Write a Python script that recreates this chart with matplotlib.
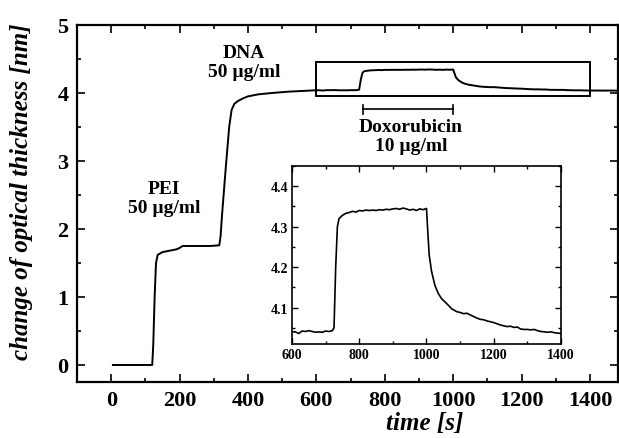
import matplotlib
matplotlib.use("Agg")
import matplotlib.pyplot as plt
from matplotlib.ticker import MultipleLocator
from matplotlib.patches import Rectangle

plt.rcParams['font.family'] = ['Liberation Serif', 'DejaVu Serif']

# time [s]
time_s = [5, 120, 123, 127, 131, 136, 150, 170, 190, 200, 205, 210, 250, 290, 316,
          320, 324, 335, 345, 352, 360, 370, 385, 400, 430, 470, 520, 560, 600,
          610, 620, 630, 640, 650, 660, 670, 680, 690, 700, 710, 720, 725, 730, 735, 740,
          750, 760, 770, 780, 790, 800, 810, 820, 830, 840, 850, 860, 870, 880, 890, 900,
          910, 920, 930, 940, 950, 960, 970, 980, 990, 1000, 1003, 1008, 1015, 1025, 1035,
          1045, 1060, 1075, 1090, 1100, 1110, 1120, 1130, 1140, 1150, 1160, 1170, 1180,
          1190, 1200, 1210, 1220, 1230, 1240, 1250, 1260, 1270, 1280, 1290, 1300, 1310,
          1320, 1330, 1340, 1350, 1360, 1370, 1380, 1390, 1400, 1480]
# change of optical thickness [nm]
thickness = [0.0, 0.0, 0.30, 1.00, 1.50, 1.62, 1.66, 1.68, 1.70, 1.72, 1.74, 1.75, 1.75, 1.75, 1.76,
             1.90, 2.20, 2.90, 3.50, 3.75, 3.84, 3.88, 3.92, 3.95, 3.98, 4.00, 4.02, 4.03, 4.04,
             4.040, 4.036, 4.042, 4.041, 4.043, 4.041, 4.039, 4.040, 4.039, 4.042, 4.041, 4.043, 4.05, 4.20, 4.30, 4.32,
             4.328, 4.333, 4.335, 4.338, 4.336, 4.340, 4.339, 4.341, 4.340, 4.341, 4.340, 4.342, 4.341, 4.343, 4.342, 4.344,
             4.345, 4.343, 4.346, 4.344, 4.341, 4.343, 4.340, 4.344, 4.342, 4.345, 4.30, 4.23, 4.19, 4.155, 4.135,
             4.122, 4.110, 4.097, 4.090, 4.088, 4.085, 4.086, 4.082, 4.078, 4.074, 4.071, 4.070, 4.067,
             4.065, 4.063, 4.060, 4.057, 4.055, 4.053, 4.054, 4.051, 4.052, 4.047, 4.046, 4.046, 4.045,
             4.046, 4.043, 4.041, 4.040, 4.039, 4.040, 4.038, 4.037, 4.036, 4.035]

main_xticks = [0, 200, 400, 600, 800, 1000, 1200, 1400]
main_yticks = [0, 1, 2, 3, 4, 5]
inset_xticks = [600, 800, 1000, 1200, 1400]
inset_yticks = [4.1, 4.2, 4.3, 4.4]

fig = plt.figure(figsize=(6.19, 4.39), dpi=100)
ax = fig.add_axes([0.1244, 0.1276, 0.874, 0.8132])
ax.plot(time_s, thickness, color='black', lw=1.4)
ax.set_xlim(-100, 1482)
ax.set_ylim(-0.25, 5.0)
ax.set_xticks(main_xticks)
ax.set_yticks(main_yticks)
ax.xaxis.set_minor_locator(MultipleLocator(100))
ax.yaxis.set_minor_locator(MultipleLocator(0.5))
ax.tick_params(which='both', direction='in', top=True, right=True, width=1.2, labelsize=16, pad=6)
ax.tick_params(which='major', length=6)
ax.tick_params(which='minor', length=3)
for s in ax.spines.values():
    s.set_linewidth(1.6)
ax.set_xlabel('time [s]', fontsize=18, fontweight='bold', style='italic')
ax.set_ylabel('change of optical thickness [nm]', fontsize=18, fontweight='bold', style='italic')
ax.xaxis.set_label_coords(0.643, -0.082)
ax.yaxis.set_label_coords(-0.082, 0.535)

# zoom rectangle
ax.add_patch(Rectangle((600, 3.96), 800, 0.50, fill=False, lw=1.4, ec='black'))
# doxorubicin bar
ax.plot([735, 1000], [3.76, 3.76], color='black', lw=1.2)
ax.plot([735, 735], [3.69, 3.83], color='black', lw=1.2)
ax.plot([1000, 1000], [3.69, 3.83], color='black', lw=1.2)

ax.text(388, 4.45, 'DNA\n50 \u00b5g/ml', ha='center', va='center', fontsize=14, fontweight='bold', linespacing=1.15)
ax.text(155, 2.46, 'PEI\n50 \u00b5g/ml', ha='center', va='center', fontsize=14, fontweight='bold', linespacing=1.15)
ax.text(876, 3.37, 'Doxorubicin\n10 \u00b5g/ml', ha='center', va='center', fontsize=14, fontweight='bold', linespacing=1.15)

# inset
axi = fig.add_axes([0.4717, 0.2141, 0.4346, 0.4055])
axi.plot(time_s, thickness, color='black', lw=1.2)
axi.set_xlim(600, 1400)
axi.set_ylim(4.01, 4.45)
axi.set_xticks(inset_xticks)
axi.set_yticks(inset_yticks)
axi.xaxis.set_minor_locator(MultipleLocator(100))
axi.yaxis.set_minor_locator(MultipleLocator(0.05))
axi.tick_params(which='both', direction='in', top=True, right=True, width=1.0, labelsize=10, pad=3)
axi.tick_params(which='major', length=4)
axi.tick_params(which='minor', length=2)
for lab in axi.get_xticklabels() + axi.get_yticklabels():
    lab.set_fontweight('bold')
for lab in ax.get_xticklabels() + ax.get_yticklabels():
    lab.set_fontweight('bold')
for s in axi.spines.values():
    s.set_linewidth(1.2)

fig.savefig('out.png', dpi=100)
